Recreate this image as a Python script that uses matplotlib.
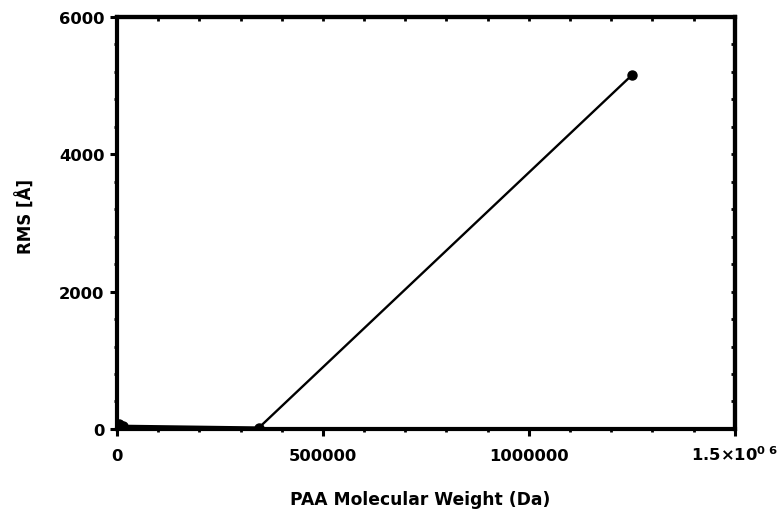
import matplotlib.pyplot as plt
from matplotlib.ticker import MultipleLocator

plt.rcParams['font.family'] = ['DejaVu Sans']
plt.rcParams['font.weight'] = 'bold'
plt.rcParams['mathtext.fontset'] = 'dejavusans'

# molecular weight (Da) and RMS (Angstrom)
mol_weight = [2000, 5000, 15000, 345000, 1250000]
rms = [55, 65, 45, 20, 5150]

x_ticks = [0, 500000, 1000000, 1500000]
x_labels = ['0', '500000', '1000000', r'1.5×10$^{\mathbf{0\ 6}}$']
y_ticks = [0, 2000, 4000, 6000]

fig = plt.figure(figsize=(7.8, 5.1), dpi=100)
ax = fig.add_axes([0.15, 0.157, 0.792, 0.808])

ax.plot(mol_weight, rms, color='black', linewidth=1.7, marker='o', markersize=6.5)

ax.set_xlim(0, 1500000)
ax.set_ylim(0, 6000)
ax.set_xticks(x_ticks)
ax.set_xticklabels(x_labels)
ax.set_yticks(y_ticks)
ax.xaxis.set_minor_locator(MultipleLocator(100000))
ax.yaxis.set_minor_locator(MultipleLocator(400))

ax.tick_params(which='major', direction='out', length=5, width=2.2, labelsize=11.8)
ax.tick_params(axis='x', which='major', pad=17.5)
ax.tick_params(axis='y', which='major', pad=4)
ax.tick_params(which='minor', direction='out', length=2.5, width=2)
# align x tick labels on the baseline so the superscript doesn't push the last one down
for lbl in ax.get_xticklabels():
    lbl.set_verticalalignment('baseline')

# inward ticks on top and right
top = ax.secondary_xaxis('top')
top.set_xticks(x_ticks)
top.xaxis.set_minor_locator(MultipleLocator(100000))
top.tick_params(which='both', direction='in', labeltop=False, width=2, length=3)
top.spines['top'].set_linewidth(3)
right = ax.secondary_yaxis('right')
right.set_yticks(y_ticks)
right.yaxis.set_minor_locator(MultipleLocator(400))
right.tick_params(which='both', direction='in', labelright=False, width=2, length=3)
right.spines['right'].set_linewidth(3)

for spine in ax.spines.values():
    spine.set_linewidth(3)

ax.set_xlabel('PAA Molecular Weight (Da)', fontsize=12.3, fontweight='bold')
ax.set_ylabel('RMS [Å]', fontsize=12, fontweight='bold')
ax.xaxis.set_label_coords(0.49, -0.148)
ax.yaxis.set_label_coords(-0.132, 0.518)

fig.savefig('out.png', dpi=100, facecolor='white')
